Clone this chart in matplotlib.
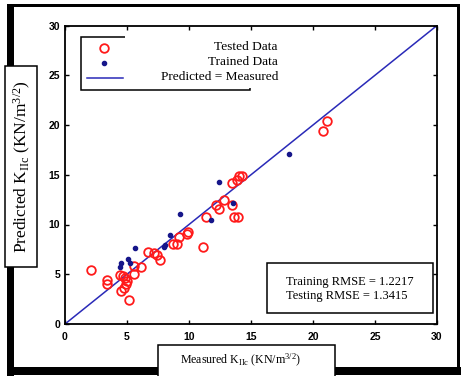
import numpy as np
import matplotlib
matplotlib.use('Agg')
import matplotlib.pyplot as plt
from matplotlib.patches import Rectangle
from matplotlib.lines import Line2D

plt.rcParams['mathtext.fontset'] = 'custom'
plt.rcParams['mathtext.rm'] = 'Liberation Serif'
plt.rcParams['mathtext.it'] = 'Liberation Serif:italic'

# measured vs predicted K_IIc values
tested_x = [2.1, 3.4, 3.4, 4.4, 4.7, 4.85, 5.0, 4.9, 4.75, 4.55, 5.15, 5.55, 5.6,
            6.1, 6.7, 7.2, 7.45, 7.65, 8.7, 9.0, 9.2, 9.85, 9.95, 11.1, 11.35,
            12.2, 12.45, 12.85, 13.5, 13.5, 13.6, 13.95, 13.85, 14.0, 14.25,
            20.8, 21.15]
tested_y = [5.4, 4.4, 4.0, 4.9, 4.8, 4.6, 4.3, 4.0, 3.6, 3.35, 2.4, 5.0, 5.85,
            5.7, 7.2, 7.1, 6.9, 6.4, 8.05, 8.05, 8.7, 9.05, 9.2, 7.7, 10.8,
            12.0, 11.55, 12.5, 12.0, 14.2, 10.75, 10.75, 14.5, 14.9, 14.85,
            19.4, 20.4]
trained_x = [4.4, 4.55, 5.1, 5.25, 5.65, 7.95, 8.1, 8.45, 9.25, 11.75, 12.45, 13.55, 18.1]
trained_y = [5.75, 6.1, 6.5, 6.1, 7.6, 7.7, 7.9, 8.95, 11.1, 10.45, 14.3, 12.2, 17.1]
line_x = [0, 30]

rmse_train = 1.2217
rmse_test = 1.3415

W, H = 461, 376
fig = plt.figure(figsize=(W / 100, H / 100), dpi=100)
fig.patch.set_facecolor('white')


def fx(px):
    return px / W


def fy(py):
    return 1 - py / H


def frect(x0, y0, x1, y1, **kw):
    # rectangle given in pixel coordinates, y measured from the top
    r = Rectangle((fx(x0), fy(y1)), fx(x1) - fx(x0), fy(y0) - fy(y1),
                  transform=fig.transFigure, **kw)
    fig.patches.append(r)
    return r


# outer frame: thick on the left and bottom, thinner top and right
frect(7, 4, 460, 7, facecolor='black', edgecolor='none', zorder=0)
frect(7, 4, 14, 376, facecolor='black', edgecolor='none', zorder=0)
frect(457, 4, 460, 368, facecolor='black', edgecolor='none', zorder=0)
frect(7, 367, 461, 375, facecolor='black', edgecolor='none', zorder=0)

ax = fig.add_axes([fx(65), fy(324), fx(437) - fx(65), fy(25.5) - fy(324)])
ax.plot(line_x, line_x, color='#2a2ab8', lw=1.1, zorder=2)
ax.plot(tested_x, tested_y, 'o', mfc='none', mec='#ff1a1a', ms=6.2, mew=1.3, zorder=3)
ax.plot(trained_x, trained_y, 'o', color='#16168a', ms=3.0, zorder=4)

ax.set_xlim(0, 30)
ax.set_ylim(0, 30)
ax.set_xticks(np.arange(0, 31, 5))
ax.set_yticks(np.arange(0, 31, 5))
ax.tick_params(direction='in', length=3, width=1, top=True, right=True,
               labelsize=7.5)
ax.tick_params(axis='x', pad=5.5)
ax.tick_params(axis='y', pad=3.5)
for lab in ax.get_xticklabels() + ax.get_yticklabels():
    lab.set_fontfamily('Liberation Sans')
    lab.set_fontweight('bold')
for sp in ax.spines.values():
    sp.set_linewidth(1.3)

# legend box with its symbols
frect(81, 37, 250, 90, facecolor='white', edgecolor='black', lw=1.1, zorder=5)
fig.lines.append(Line2D([fx(104)], [fy(48)], marker='o', mfc='none', mec='#ff1a1a',
                        ms=6.2, mew=1.3, transform=fig.transFigure, zorder=6))
fig.lines.append(Line2D([fx(104)], [fy(63)], marker='o', color='#16168a', ms=3.0,
                        transform=fig.transFigure, zorder=6))
fig.lines.append(Line2D([fx(87), fx(123)], [fy(78), fy(78)], color='#2a2ab8', lw=1.1,
                        transform=fig.transFigure, zorder=6))
frect(125, 33, 292, 88, facecolor='white', edgecolor='none', zorder=7)
for txt, py in [('Tested Data', 47), ('Trained Data', 62), ('Predicted = Measured', 77)]:
    fig.text(fx(278), fy(py), txt, ha='right', va='center', fontsize=9.6,
             family='Liberation Serif', zorder=8)

# RMSE box
frect(267, 263, 433, 313, facecolor='white', edgecolor='black', lw=1.1, zorder=5)
fig.text(fx(286), fy(282), 'Training RMSE = %.4f' % rmse_train, ha='left', va='center',
         fontsize=9, family='Liberation Serif', zorder=8)
fig.text(fx(286), fy(296), 'Testing RMSE = %.4f' % rmse_test, ha='left', va='center',
         fontsize=9, family='Liberation Serif', zorder=8)

# axis label boxes
frect(5, 66, 37, 267, facecolor='white', edgecolor='black', lw=1.1, zorder=5)
fig.text(fx(22), fy(167), r'Predicted K$_{\rm IIc}$ (KN/m$^{3/2}$)', rotation=90,
         ha='center', va='center', fontsize=12.5, family='Liberation Serif', zorder=8)
frect(158, 345, 335, 380, facecolor='white', edgecolor='black', lw=1.1, zorder=5)
fig.text(fx(240), fy(360), r'Measured K$_{\rm IIc}$ (KN/m$^{3/2}$)',
         ha='center', va='center', fontsize=8.6, family='Liberation Serif', zorder=8)

fig.savefig('out.png', dpi=100)
